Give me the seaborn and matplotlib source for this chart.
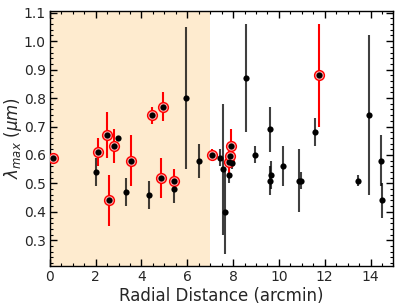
#!/usr/bin/env python

import matplotlib
matplotlib.use('Agg')
import matplotlib.pyplot as plt
import matplotlib.ticker as ticker
import numpy as np
import pandas as pd
import seaborn as sns

# black points: radial distance (arcmin), lambda_max (um), error
black_x = [2.01, 2.96, 3.31, 4.31, 5.40, 5.96, 6.52, 7.41, 7.56, 7.66,
           7.80, 7.95, 8.56, 8.97, 9.62, 9.65, 9.62, 10.18, 10.86, 10.96,
           11.59, 13.44, 13.93, 14.46, 14.52]
black_y = [0.54, 0.66, 0.47, 0.46, 0.48, 0.80, 0.58, 0.59, 0.55, 0.40,
           0.53, 0.57, 0.87, 0.60, 0.69, 0.53, 0.51, 0.56, 0.51, 0.51,
           0.68, 0.51, 0.74, 0.58, 0.44]
black_err = [0.05, 0.0, 0.05, 0.05, 0.05, 0.25, 0.06, 0.03, 0.23, 0.15,
             0.03, 0.02, 0.19, 0.03, 0.08, 0.05, 0.05, 0.07, 0.11, 0.03,
             0.05, 0.02, 0.28, 0.09, 0.06]

# red (highlighted) points
red_x = [0.12, 2.08, 2.49, 2.59, 2.78, 3.54, 4.47, 4.85, 4.95, 5.40,
         7.10, 7.81, 7.88, 7.92, 11.73]
red_y = [0.59, 0.61, 0.67, 0.44, 0.63, 0.58, 0.74, 0.52, 0.77, 0.51,
         0.60, 0.575, 0.595, 0.63, 0.88]
red_err = [0.0, 0.05, 0.08, 0.09, 0.06, 0.09, 0.03, 0.07, 0.05, 0.04,
           0.02, 0.04, 0.03, 0.06, 0.18]

INNER_REGION = (0, 7)


def main():
    black = pd.DataFrame({'r': black_x, 'lam': black_y, 'err': black_err})
    red = pd.DataFrame({'r': red_x, 'lam': red_y, 'err': red_err})

    sns.set_style('ticks')
    plt.rcParams['font.family'] = ['DejaVu Sans']
    fig, ax = plt.subplots(figsize=(3.99, 3.07), dpi=100)
    fig.subplots_adjust(left=0.125, right=0.986, top=0.965, bottom=0.134)

    ax.axvspan(*INNER_REGION, color='#feebcf', lw=0, zorder=0)

    ax.errorbar(black['r'], black['lam'], yerr=black['err'], fmt='none',
                ecolor='black', alpha=0.75, elinewidth=1.5, zorder=2)
    ax.errorbar(red['r'], red['lam'], yerr=red['err'], fmt='none',
                ecolor='red', elinewidth=1.5, zorder=3)

    sns.scatterplot(x='r', y='lam', data=red, ax=ax, s=50,
                    color='#ffa8a8', edgecolor='red', linewidth=1.0,
                    zorder=4, legend=False)
    sns.scatterplot(x='r', y='lam', data=red, ax=ax, s=20,
                    color='black', edgecolor='black', linewidth=0,
                    zorder=5, legend=False)
    sns.scatterplot(x='r', y='lam', data=black, ax=ax, s=20,
                    color='black', edgecolor='black', linewidth=0,
                    zorder=5, legend=False)

    ax.set(xlim=(0, 15), ylim=(0.21, 1.107))
    ax.set_xlabel('Radial Distance (arcmin)', fontsize=12, labelpad=2)
    ax.set_ylabel(r'$\lambda_{max}$ $(\mu m)$', fontsize=12, labelpad=0)

    ax.xaxis.set_major_locator(ticker.MultipleLocator(2))
    ax.xaxis.set_minor_locator(ticker.MultipleLocator(0.5))
    ax.yaxis.set_major_locator(ticker.MultipleLocator(0.1))
    ax.yaxis.set_minor_locator(ticker.MultipleLocator(0.02))
    ax.yaxis.set_major_formatter(ticker.FormatStrFormatter('%.1f'))
    ax.tick_params(which='both', direction='in', top=True, right=True,
                   labelsize=10, color='black')
    ax.tick_params(which='major', length=5, width=1, pad=3)
    ax.tick_params(which='minor', length=2.5, width=0.8)
    for spine in ax.spines.values():
        spine.set_color('black')
        spine.set_linewidth(1)

    plt.savefig('out.png', dpi=100)
    plt.close()


if __name__ == '__main__':
    main()
